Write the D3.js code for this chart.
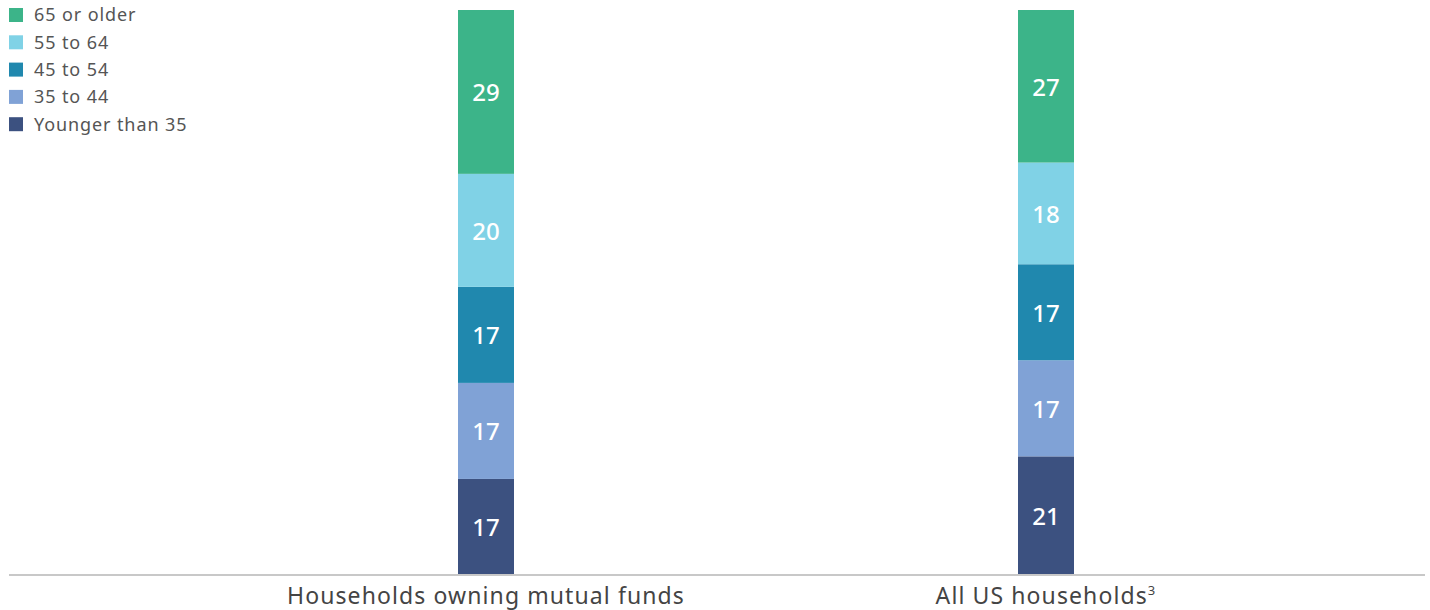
<!DOCTYPE html>
<html lang="en">
<head>
  <meta charset="UTF-8" />
  <title>Age of head of household</title>
  <style>
    body { margin: 0; background: #fff; font-family: 'Noto Sans', sans-serif; }
    .legend text { fill: #555; font-size: 18px; letter-spacing: 0.9px; }
    .seg-label { fill: #fff; font-size: 24px; font-weight: 500; }
    .cat-label { fill: #444; font-size: 23px; letter-spacing: 1.1px; }
  </style>
</head>
<body>
  <svg id="chart" width="1430" height="610"></svg>
  <script src="https://d3js.org/d3.v7.min.js"></script>
  <script>
    const categories = ["Households owning mutual funds", "All US households"];
    const ageGroups = ["Younger than 35", "35 to 44", "45 to 54", "55 to 64", "65 or older"];
    const mutualFundHH = [17, 17, 17, 20, 29];
    const allUSHH = [21, 17, 17, 18, 27];
    const colors = ["#3c5180", "#80a2d6", "#2088ae", "#80d2e6", "#3cb489"];

    const svg = d3.select("#chart");
    const rows = categories.map((c, i) => {
      const vals = i === 0 ? mutualFundHH : allUSHH;
      const r = { cat: c };
      ageGroups.forEach((g, j) => r[g] = vals[j]);
      return r;
    });

    const x = d3.scaleBand().domain(categories).range([206, 1326])
      .paddingInner(0.9).paddingOuter(0.45);
    const y = d3.scaleLinear().domain([0, 100]).range([575, 10]);
    const color = d3.scaleOrdinal().domain(ageGroups).range(colors);

    const series = d3.stack().keys(ageGroups)(rows);

    const layer = svg.selectAll(".layer").data(series).enter()
      .append("g").attr("class", "layer").attr("fill", d => color(d.key));

    layer.selectAll("rect").data(d => d).enter().append("rect")
      .attr("x", d => x(d.data.cat))
      .attr("width", x.bandwidth())
      .attr("y", d => y(d[1]))
      .attr("height", d => y(d[0]) - y(d[1]));

    layer.selectAll("text").data(d => d.map(v => ({ v, key: d.key }))).enter().append("text")
      .attr("class", "seg-label")
      .attr("x", d => x(d.v.data.cat) + x.bandwidth() / 2)
      .attr("y", d => (y(d.v[0]) + y(d.v[1])) / 2)
      .attr("text-anchor", "middle")
      .attr("dominant-baseline", "central")
      .text(d => d.v.data[d.key]);

    // baseline
    svg.append("line")
      .attr("x1", 9).attr("x2", 1425)
      .attr("y1", y(0)).attr("y2", y(0))
      .attr("stroke", "#c8c8c8").attr("stroke-width", 2);

    // category labels
    const cl = svg.selectAll(".cat-label").data(categories).enter().append("text")
      .attr("class", "cat-label")
      .attr("x", d => x(d) + x.bandwidth() / 2)
      .attr("y", 604)
      .attr("text-anchor", "middle");
    cl.append("tspan").text(d => d);
    cl.filter((d, i) => i === 1).append("tspan")
      .attr("font-size", 13).attr("dy", -9).text("3");

    // legend (top-down: oldest first)
    const legend = svg.append("g").attr("class", "legend");
    const items = ageGroups.slice().reverse();
    const li = legend.selectAll("g").data(items).enter().append("g")
      .attr("transform", (d, i) => `translate(9,${15 + i * 27.3})`);
    li.append("rect").attr("x", 0).attr("y", -7).attr("width", 14).attr("height", 14)
      .attr("fill", d => color(d));
    li.append("text").attr("x", 25).attr("dy", "0.35em").text(d => d);
  </script>
</body>
</html>
